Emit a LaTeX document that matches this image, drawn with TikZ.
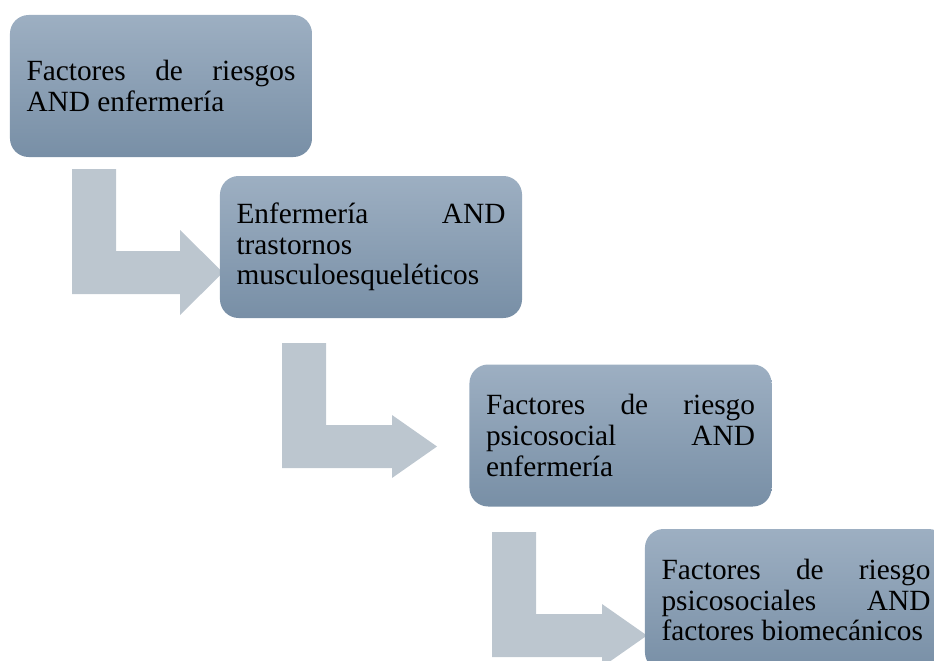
\documentclass[tikz,border=0pt]{standalone}
\usepackage{fontspec}
\setmainfont{Liberation Serif}
\definecolor{boxtop}{RGB}{157,175,194}
\definecolor{boxbot}{RGB}{120,143,166}
\definecolor{bendgray}{RGB}{188,198,207}
\tikzset{
  stepbox/.style={rounded corners=14pt, top color=boxtop, bottom color=boxbot,
    minimum width=226.5pt, minimum height=106.5pt, text width=201.75pt,
    inner xsep=12.4pt, align=justify,
    font=\fontsize{22}{23}\selectfont},
  bentarrow/.style={fill=bendgray}
}
\begin{document}
\begin{tikzpicture}[x=0.75pt, y=-0.75pt]
\useasboundingbox (0,0) rectangle (934,660);
\clip (0,0) rectangle (934,660);

% bent arrows
\coordinate (a1) at (72,169);
\coordinate (a2) at (282,343);
\coordinate (a3) at (492,532);
\fill[bentarrow] (a1) --++(44,0) --++(0,82) --++(64,0) --++(0,-21) --++(43,42.5) --++(-43,42.5) --++(0,-21) --++(-108,0) -- cycle;
\foreach \a in {a2,a3}
  \fill[bentarrow] (\a) --++(44,0) --++(0,82) --++(66,0) --++(0,-10) --++(45,31.5) --++(-45,31.5) --++(0,-10) --++(-110,0) -- cycle;

% boxes
\node[stepbox] (b1) at (161,86) {Factores de riesgos\linebreak AND enfermería};
\node[stepbox] (b2) at (371,247) {Enfermería AND\linebreak trastornos\linebreak musculoesqueléticos};
\node[stepbox] (b3) at (620.5,435.5) {Factores de riesgo\linebreak psicosocial AND\linebreak enfermería};
\node[stepbox] (b4) at (796,600) {Factores de riesgo\linebreak psicosociales AND\linebreak factores biomecánicos};
\end{tikzpicture}
\end{document}
